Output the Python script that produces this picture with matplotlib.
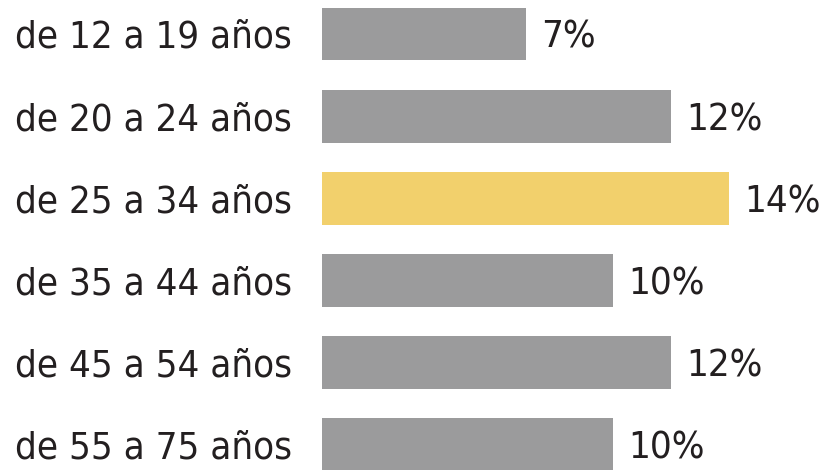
import matplotlib
matplotlib.use("Agg")
from matplotlib import pyplot as plt
from matplotlib import transforms

grupos = ["de 12 a 19 años", "de 20 a 24 años", "de 25 a 34 años",
          "de 35 a 44 años", "de 45 a 54 años", "de 55 a 75 años"]
porcentajes = [7, 12, 14, 10, 12, 10]
destacado = "de 25 a 34 años"

gris = "#9b9b9c"
amarillo = "#f2d06c"
texto = "#231f20"

fig = plt.figure(figsize=(8.21, 4.70), dpi=100)
ax = fig.add_axes([322 / 821, 0, 407 / 821, 1])

colores = [amarillo if g == destacado else gris for g in grupos]
pos = list(range(len(grupos)))
ax.barh(pos, porcentajes, height=0.645, color=colores)

ax.set_xlim(0, 14)
ax.set_ylim(5.308, -0.414)
ax.axis("off")

fuente = dict(family=["Liberation Sans Narrow", "DejaVu Sans"], stretch="condensed",
              size=27.5, color=texto)

trans = transforms.blended_transform_factory(fig.transFigure, ax.transData)
for i, (g, v) in enumerate(zip(grupos, porcentajes)):
    fig.text(15 / 821, i + 0.17, g, transform=trans, ha="left", va="baseline", **fuente)
    ax.annotate(f"{v}%", xy=(v, i + 0.17), xytext=(11, 0), textcoords="offset points",
                ha="left", va="baseline", **fuente)

fig.savefig("out.png", dpi=100)
